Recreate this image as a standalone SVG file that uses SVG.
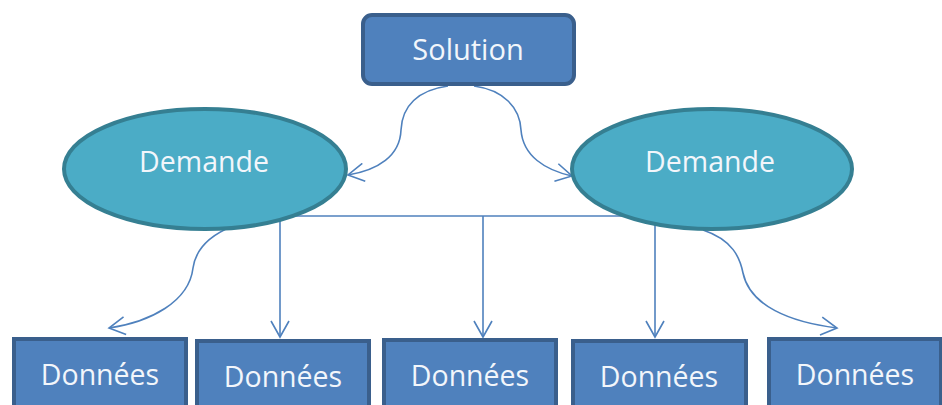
<svg xmlns="http://www.w3.org/2000/svg" width="942" height="405" viewBox="0 0 942 405">
<defs>
<style>
.box{fill:#4f81bd;stroke:#3a5f8c;stroke-width:4}
.ell{fill:#4bacc6;stroke:#357f92;stroke-width:4}
.lbl{font-family:"Open Sans","Liberation Sans",sans-serif;font-size:28.5px;fill:#f2f6fb;text-anchor:middle}
.con{fill:none;stroke:#4f81bd;stroke-width:1.6}
</style>
<marker id="ah" viewBox="0 0 20 20" refX="18" refY="10" markerWidth="20" markerHeight="20" markerUnits="userSpaceOnUse" orient="auto">
<path d="M2,1 L18,10 L2,19" fill="none" stroke="#4f81bd" stroke-width="1.6"/>
</marker>
</defs>
<rect width="942" height="405" fill="#ffffff"/>
<g id="connectors">
<path class="con" d="M448,86 C418,90 402,106 401,130 C400,156 378,170 348,175" marker-end="url(#ah)"/>
<path class="con" d="M474,86 C504,90 520,108 521,130 C523,156 545,170 572,176" marker-end="url(#ah)"/>
<path class="con" d="M233,226 C203,238 195,254 193,268 C189,302 150,322 109,328" marker-end="url(#ah)"/>
<path class="con" d="M703,230 C733,240 740,258 743,273 C750,306 790,322 837,328" marker-end="url(#ah)"/>
<path class="con" d="M292,216 L632,216"/>
<path class="con" d="M280,218 L280,337" marker-end="url(#ah)"/>
<path class="con" d="M483,216 L483,337" marker-end="url(#ah)"/>
<path class="con" d="M655,222 L655,337" marker-end="url(#ah)"/>
</g>
<g id="solution">
<rect class="box" x="363" y="15" width="211" height="69" rx="9"/>
<text class="lbl" x="468" y="60" style="font-size:29px">Solution</text>
</g>
<g id="demande1">
<ellipse class="ell" cx="205" cy="169" rx="141" ry="60"/>
<text class="lbl" x="204" y="172">Demande</text>
</g>
<g id="demande2">
<ellipse class="ell" cx="712" cy="169" rx="140" ry="60"/>
<text class="lbl" x="710" y="172">Demande</text>
</g>
<g id="donnees1">
<rect class="box" x="14" y="339" width="172" height="80"/>
<text class="lbl" x="100" y="385">Données</text>
</g>
<g id="donnees2">
<rect class="box" x="197" y="341" width="172" height="80"/>
<text class="lbl" x="283" y="387">Données</text>
</g>
<g id="donnees3">
<rect class="box" x="384" y="340" width="172" height="80"/>
<text class="lbl" x="470" y="386">Données</text>
</g>
<g id="donnees4">
<rect class="box" x="573" y="341" width="173" height="80"/>
<text class="lbl" x="659" y="387">Données</text>
</g>
<g id="donnees5">
<rect class="box" x="769" y="339" width="172" height="80"/>
<text class="lbl" x="855" y="385">Données</text>
</g>
</svg>
